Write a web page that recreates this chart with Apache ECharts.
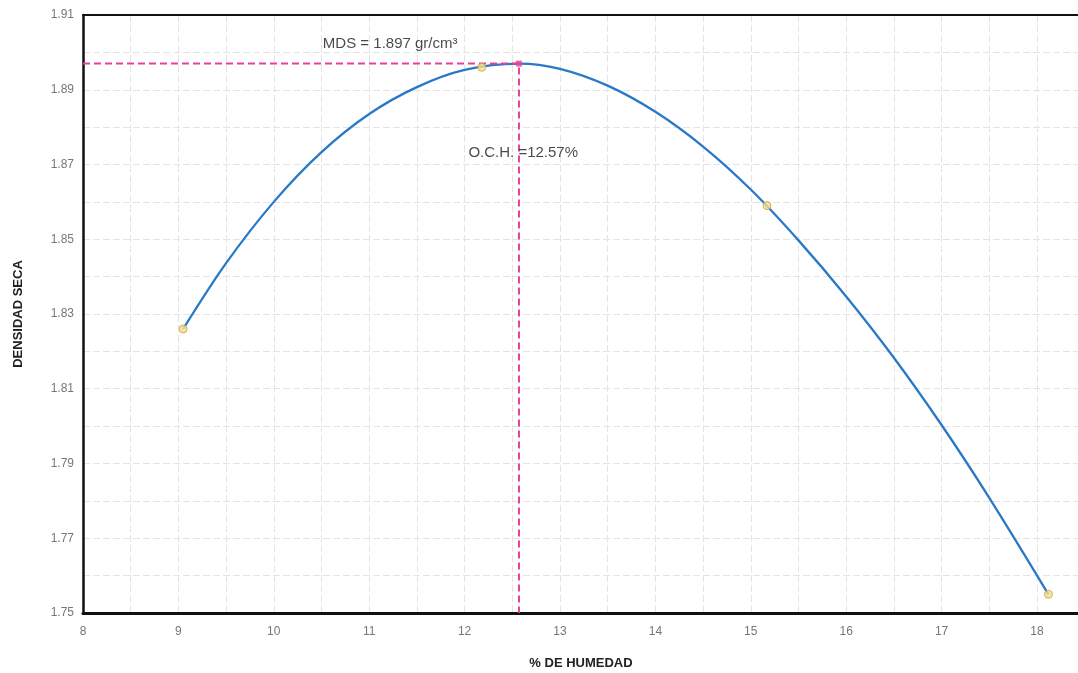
<!DOCTYPE html>
<html>
<head>
<meta charset="utf-8">
<script src="https://cdn.jsdelivr.net/npm/echarts@6/dist/echarts.min.js"></script>
<style>
  html, body { margin: 0; padding: 0; background: #fff; }
  #chart { width: 1078px; height: 673px; }
</style>
</head>
<body>
<div id="chart"></div>
<script>
// Proctor test: measured dry density vs. moisture content
const humedad = [9.05, 12.18, 15.17, 18.12];
const densidad = [1.826, 1.896, 1.859, 1.755];

// Optimum: maximum dry density and optimum moisture content
const och = 12.57;
const mds = 1.897;

// Fitted compaction curve, sampled along its length
const curvaX = [9.05, 9.5, 10.0, 10.5, 11.0, 11.5, 12.0, 12.57, 13.0, 13.5, 14.0, 14.5, 15.0, 15.5, 16.0, 16.5, 17.0, 17.5, 18.12];
const curvaY = [1.8260, 1.8436, 1.8600, 1.8733, 1.8835, 1.8907, 1.8953, 1.8970, 1.8956, 1.8911, 1.8841, 1.8748, 1.8633, 1.8497, 1.8347, 1.8183, 1.8003, 1.7808, 1.7550];

// Visible axis range (the plot runs to the right edge of the page)
const xMin = 8, xMax = 18.43;
const yMin = 1.75, yMax = 1.91;

const mdsLabel = 'MDS = ' + mds.toFixed(3) + ' gr/cm\u00B3';
const ochLabel = 'O.C.H. =' + och.toFixed(2) + '%';

const chart = echarts.init(document.getElementById('chart'), null, { renderer: 'canvas' });

const gridLine = { show: true, lineStyle: { color: '#e4e4e4', width: 1, type: [7, 3] } };
const FONT = '"Liberation Sans", Arial, sans-serif';

chart.setOption({
  animation: false,
  backgroundColor: '#ffffff',
  textStyle: { fontFamily: FONT },
  grid: { left: 83, top: 15, bottom: 60, right: 0, show: false },
  xAxis: [
    {
      type: 'value', min: xMin, max: xMax, interval: 0.5,
      axisLine: { show: true, onZero: false, lineStyle: { color: '#111', width: 3 } },
      axisTick: { show: false },
      axisLabel: {
        color: '#777', fontSize: 12, margin: 13, showMaxLabel: false,
        formatter: v => (Math.abs(v - Math.round(v)) < 1e-6 ? String(Math.round(v)) : '')
      },
      splitLine: gridLine
    },
    {
      // top frame line
      type: 'value', position: 'top', min: xMin, max: xMax,
      axisLine: { show: true, onZero: false, lineStyle: { color: '#111', width: 2 } },
      axisTick: { show: false }, axisLabel: { show: false }, splitLine: { show: false }
    }
  ],
  yAxis: {
    type: 'value', min: yMin, max: yMax, interval: 0.01,
    name: 'DENSIDAD SECA', nameLocation: 'middle', nameGap: 58, nameRotate: 90,
    nameTextStyle: { color: '#222', fontSize: 13, fontWeight: 'bold' },
    axisLine: { show: true, onZero: false, lineStyle: { color: '#111', width: 2.5 } },
    axisTick: { show: false },
    axisLabel: {
      color: '#777', fontSize: 12, margin: 9,
      formatter: v => (Math.round(v * 100) % 2 === 1 ? v.toFixed(2) : '')
    },
    splitLine: gridLine
  },
  graphic: [{
    type: 'text', x: 581, y: 657,
    style: { text: '% DE HUMEDAD', fill: '#222', font: 'bold 13px ' + FONT, textAlign: 'center' }
  }],
  series: [
    {
      name: 'curva', type: 'line', smooth: 0.33, symbol: 'none', z: 3,
      lineStyle: { color: '#2a78c8', width: 2.3 },
      data: curvaX.map((x, i) => [x, curvaY[i]])
    },
    {
      name: 'optimo', type: 'line', symbol: 'none', z: 4,
      lineStyle: { color: '#e8409a', width: 2, type: [7, 4] },
      data: [[xMin, mds], [och, mds], [och, yMin]]
    },
    {
      name: 'vertice', type: 'scatter', symbol: 'rect', symbolSize: 6, z: 5,
      itemStyle: { color: '#e8409a' },
      data: [[och, mds]]
    },
    {
      name: 'ensayos', type: 'scatter', symbol: 'circle', symbolSize: 8, z: 6,
      itemStyle: { color: '#f3df8e', borderColor: '#cf9c3c', borderWidth: 1 },
      data: humedad.map((x, i) => [x, densidad[i]])
    },
    {
      name: 'rotulos', type: 'scatter', symbolSize: 0, z: 7, silent: true,
      label: {
        show: true, color: '#1a1a1a', fontSize: 15,
        formatter: p => p.data.texto
      },
      data: [
        { value: [11.22, 1.9022], texto: mdsLabel, label: { position: 'inside', align: 'center' } },
        { value: [12.04, 1.8731], texto: ochLabel, label: { position: 'inside', align: 'left' } }
      ]
    }
  ]
});
</script>
</body>
</html>
